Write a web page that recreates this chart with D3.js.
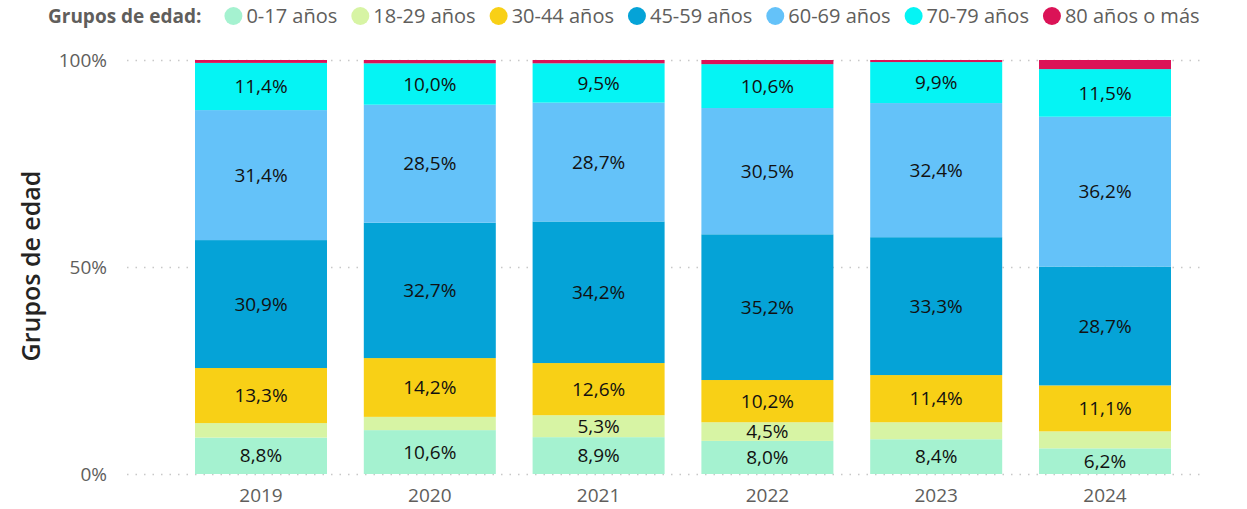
<!DOCTYPE html>
<html>
<head>
<meta charset="utf-8">
<script src="https://cdn.jsdelivr.net/npm/d3@7/dist/d3.min.js"></script>
<style>
  body { margin: 0; background: #fff; font-family: "Segoe UI", "Open Sans", sans-serif; }
</style>
</head>
<body>
<svg id="chart"></svg>
<script>
// Full size of the svg element.
const WIDTH = 1247
const HEIGHT = 509

// Data (percent of each year).
const years = ["2019", "2020", "2021", "2022", "2023", "2024"]
const groups = ["0-17 años", "18-29 años", "30-44 años", "45-59 años", "60-69 años", "70-79 años", "80 años o más"]
const colors = ["#A5F2D0", "#D7F4A4", "#F8D016", "#05A3D7", "#64C2F9", "#05F4F4", "#DB1357"]

const age0017 = [8.8, 10.6, 8.9, 8.0, 8.4, 6.2]
const age1829 = [3.5, 3.2, 5.3, 4.5, 4.1, 4.1]
const age3044 = [13.3, 14.2, 12.6, 10.2, 11.4, 11.1]
const age4559 = [30.9, 32.7, 34.2, 35.2, 33.3, 28.7]
const age6069 = [31.4, 28.5, 28.7, 30.5, 32.4, 36.2]
const age7079 = [11.4, 10.0, 9.5, 10.6, 9.9, 11.5]
const age80 = [0.7, 0.8, 0.8, 1.0, 0.5, 2.2]

const yTicks = [0, 50, 100]

const series = [age0017, age1829, age3044, age4559, age6069, age7079, age80]

// table for d3.stack
const table = years.map((y, i) => {
  const row = { year: y }
  groups.forEach((g, j) => { row[g] = series[j][i] })
  return row
})

const stacked = d3.stack().keys(groups).offset(d3.stackOffsetExpand)(table)

const xScale = d3.scaleBand().domain(years).range([176.6, 1189.4])
  .paddingInner(0.218).paddingOuter(0.109)
const yScale = d3.scaleLinear().domain([0, 1]).range([474, 60])

const svg = d3.select("#chart").attr("width", WIDTH).attr("height", HEIGHT)

// dotted gridlines
svg.append("g")
  .selectAll("line")
  .data(yTicks)
  .join("line")
  .attr("x1", 127).attr("x2", 1200)
  .attr("y1", (d) => yScale(d / 100) + 0.5)
  .attr("y2", (d) => yScale(d / 100) + 0.5)
  .attr("stroke", "#c8c8c8")
  .attr("stroke-width", 1.5)
  .attr("stroke-dasharray", "1.5,7")

// y axis labels
svg.append("g")
  .selectAll("text")
  .data(yTicks)
  .join("text")
  .attr("x", 107)
  .attr("y", (d) => yScale(d / 100))
  .attr("dy", "0.35em")
  .attr("text-anchor", "end")
  .attr("fill", "#605E5C")
  .style("font-size", "19px")
  .text((d) => d + "%")

// y axis title
svg.append("text")
  .attr("transform", "translate(31,266) rotate(-90)")
  .attr("text-anchor", "middle")
  .attr("dy", "0.35em")
  .attr("fill", "#252423")
  .style("font-size", "25px")
  .style("font-weight", "600")
  .text("Grupos de edad")

// bars
const layers = svg.append("g")
  .selectAll("g")
  .data(stacked)
  .join("g")
  .attr("fill", (d, i) => colors[i])

layers.selectAll("rect")
  .data((d) => d)
  .join("rect")
  .attr("x", (d) => xScale(d.data.year))
  .attr("width", xScale.bandwidth())
  .attr("y", (d) => yScale(d[1]))
  .attr("height", (d) => yScale(d[0]) - yScale(d[1]))

// data labels (only where the segment is tall enough)
layers.selectAll("text")
  .data((d) => d.map((p) => ({ p: p, key: d.key })))
  .join("text")
  .filter((d) => yScale(d.p[0]) - yScale(d.p[1]) >= 18)
  .attr("x", (d) => xScale(d.p.data.year) + xScale.bandwidth() / 2)
  .attr("y", (d) => (yScale(d.p[0]) + yScale(d.p[1])) / 2)
  .attr("dy", "0.35em")
  .attr("text-anchor", "middle")
  .attr("fill", "#111")
  .style("font-size", "19px")
  .text((d) => d.p.data[d.key].toFixed(1).replace(".", ",") + "%")

// x axis labels
svg.append("g")
  .selectAll("text")
  .data(years)
  .join("text")
  .attr("x", (d) => xScale(d) + xScale.bandwidth() / 2)
  .attr("y", 495)
  .attr("dy", "0.35em")
  .attr("text-anchor", "middle")
  .attr("fill", "#605E5C")
  .style("font-size", "19px")
  .text((d) => d)

// legend
const legend = svg.append("g")
const title = legend.append("text")
  .attr("x", 48).attr("y", 16).attr("dy", "0.35em")
  .attr("fill", "#605E5C")
  .style("font-size", "19px")
  .style("font-weight", "bold")
  .text("Grupos de edad:")

let cx = 48 + title.node().getComputedTextLength() + 32
groups.forEach((g, i) => {
  legend.append("circle")
    .attr("cx", cx).attr("cy", 16).attr("r", 9)
    .attr("fill", colors[i])
  const t = legend.append("text")
    .attr("x", cx + 13).attr("y", 16).attr("dy", "0.35em")
    .attr("fill", "#605E5C")
    .style("font-size", "20px")
    .text(g)
  cx += 13 + t.node().getComputedTextLength() + 23
})
</script>
</body>
</html>
